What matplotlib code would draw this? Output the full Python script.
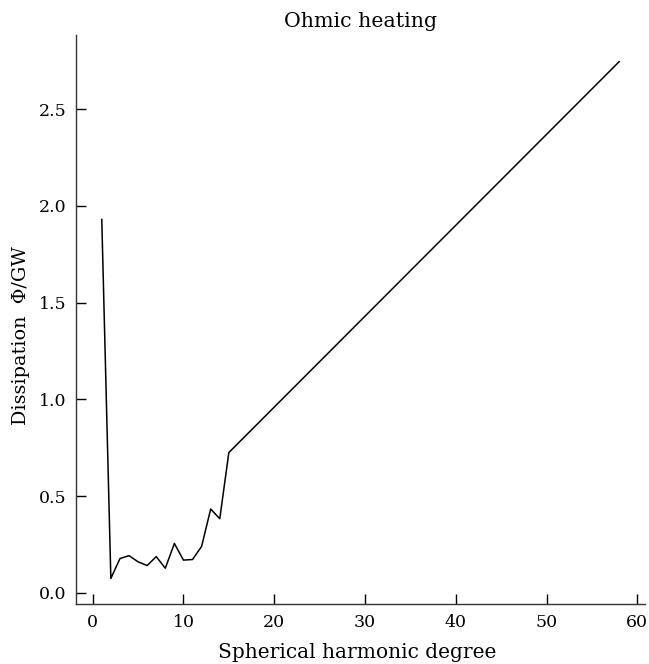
import matplotlib
matplotlib.use("Agg")
import matplotlib.pyplot as plt

degree = [1, 2, 3, 4, 5, 6, 7, 8, 9, 10, 11, 12, 13, 14, 15, 58]
dissipation = [1.93, 0.074, 0.177, 0.192, 0.160, 0.141, 0.187, 0.127, 0.255,
               0.169, 0.172, 0.240, 0.433, 0.383, 0.725, 2.746]
xticks = [0, 10, 20, 30, 40, 50, 60]
yticks = [0.0, 0.5, 1.0, 1.5, 2.0, 2.5]

plt.rcParams['font.family'] = ['DejaVu Serif']
W, H = 649, 664
fig = plt.figure(figsize=(W/100, H/100), dpi=100)
ax = fig.add_axes([76/W, 1-604/H, (645-76)/W, (604-35)/H])
ax.plot(degree, dissipation, color='black', lw=1.1)
ax.set_xlim(-1.84, 60.85)
ax.set_ylim(-0.058, 2.884)
ax.set_xticks(xticks)
ax.set_xticklabels([str(t) for t in xticks])
ax.set_yticks(yticks)
ax.set_yticklabels([f"{t:.1f}" for t in yticks])
for s in ['top', 'right']:
    ax.spines[s].set_visible(False)
for s in ['left', 'bottom']:
    ax.spines[s].set_linewidth(1.0)
    ax.spines[s].set_color('#333333')
ax.tick_params(direction='in', length=7, width=1.0, labelsize=12.5, pad=7, colors='black')
fig.text(361/W, 1-27/H, 'Ohmic heating', fontsize=14.8, ha='center', va='baseline')
fig.text(357/W, 1-658/H, 'Spherical harmonic degree', fontsize=14.5, ha='center', va='baseline')
fig.text(21/W, 1-336/H, 'Dissipation  Φ/GW', fontsize=13.8, ha='center', va='center', rotation=90)
fig.savefig('out.png', dpi=100)
